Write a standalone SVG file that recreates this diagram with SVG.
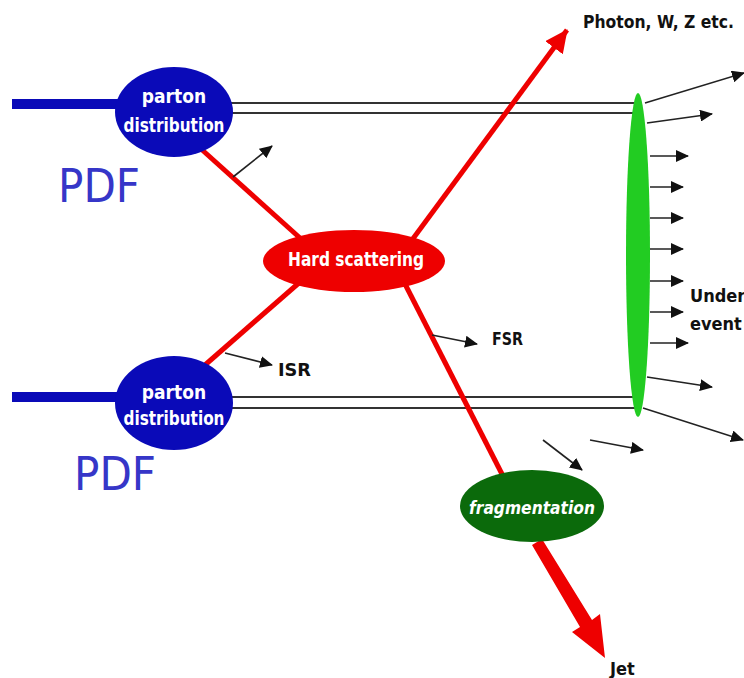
<svg xmlns="http://www.w3.org/2000/svg" width="744" height="678" viewBox="0 0 744 678">
<defs>
<style>
.blk{stroke:#222;stroke-width:1.6;fill:none}
.dbl{stroke:#333;stroke-width:2;fill:none}
.red{stroke:#ee0000;stroke-width:5;fill:none}
.wt{fill:#ffffff;font-family:"DejaVu Sans Condensed","DejaVu Sans",sans-serif;font-weight:bold}
.lb{fill:#111;font-family:"DejaVu Sans Condensed","DejaVu Sans",sans-serif;font-weight:bold}
.pdf{fill:#3636c8;font-family:"DejaVu Sans",sans-serif;font-size:46px}
</style>
<marker id="ah" markerUnits="userSpaceOnUse" markerWidth="14" markerHeight="12" refX="12" refY="6" orient="auto">
<path d="M0,0 L13,6 L0,12 Z" fill="#111"/>
</marker>
<marker id="rh" markerUnits="userSpaceOnUse" markerWidth="24" markerHeight="22" refX="22" refY="11" orient="auto">
<path d="M0,0 L23,11 L0,22 Z" fill="#ee0000"/>
</marker>
</defs>
<rect width="744" height="678" fill="#ffffff"/>

<g id="connectors">
<line x1="12" y1="104" x2="130" y2="104" stroke="#0a0ab8" stroke-width="10"/>
<line x1="12" y1="397" x2="130" y2="397" stroke="#0a0ab8" stroke-width="10"/>
<line class="dbl" x1="225" y1="103" x2="638" y2="103"/>
<line class="dbl" x1="225" y1="113" x2="638" y2="113"/>
<line class="dbl" x1="225" y1="397" x2="638" y2="397"/>
<line class="dbl" x1="225" y1="408" x2="638" y2="408"/>
<line class="red" x1="200" y1="148" x2="300" y2="238"/>
<line class="red" x1="205" y1="365" x2="300" y2="282"/>
<line class="red" x1="405" y1="284" x2="504" y2="478"/>
<line class="red" x1="412" y1="240" x2="567" y2="30" marker-end="url(#rh)"/>
<polygon fill="#ee0000" points="532,545 542,539 592,620 600,614 605,658 572,632 580,627"/>
<line class="blk" x1="233" y1="177" x2="272" y2="146" marker-end="url(#ah)"/>
<line class="blk" x1="225" y1="353" x2="272" y2="365" marker-end="url(#ah)"/>
<line class="blk" x1="432" y1="335" x2="477" y2="344" marker-end="url(#ah)"/>
<line class="blk" x1="543" y1="440" x2="582" y2="470" marker-end="url(#ah)"/>
<line class="blk" x1="590" y1="440" x2="643" y2="450" marker-end="url(#ah)"/>
<line class="blk" x1="645" y1="103" x2="744" y2="73" marker-end="url(#ah)"/>
<line class="blk" x1="647" y1="123" x2="712" y2="114" marker-end="url(#ah)"/>
<line class="blk" x1="650" y1="156" x2="688" y2="156" marker-end="url(#ah)"/>
<line class="blk" x1="650" y1="187" x2="683" y2="187" marker-end="url(#ah)"/>
<line class="blk" x1="650" y1="218" x2="683" y2="218" marker-end="url(#ah)"/>
<line class="blk" x1="650" y1="249" x2="683" y2="249" marker-end="url(#ah)"/>
<line class="blk" x1="650" y1="281" x2="683" y2="281" marker-end="url(#ah)"/>
<line class="blk" x1="650" y1="312" x2="683" y2="312" marker-end="url(#ah)"/>
<line class="blk" x1="650" y1="343" x2="688" y2="343" marker-end="url(#ah)"/>
<line class="blk" x1="647" y1="377" x2="712" y2="387" marker-end="url(#ah)"/>
<line class="blk" x1="643" y1="408" x2="743" y2="440" marker-end="url(#ah)"/>
</g>

<g id="pdf-top">
<ellipse cx="174" cy="112" rx="59" ry="45" fill="#0a0ab8"/>
<text class="wt" x="174" y="103" font-size="19" text-anchor="middle">parton</text>
<text class="wt" x="174" y="132" font-size="19" text-anchor="middle" textLength="101" lengthAdjust="spacingAndGlyphs">distribution</text>
</g>
<g id="pdf-bottom">
<ellipse cx="174" cy="403" rx="59" ry="47" fill="#0a0ab8"/>
<text class="wt" x="174" y="399" font-size="19" text-anchor="middle">parton</text>
<text class="wt" x="174" y="425" font-size="19" text-anchor="middle" textLength="101" lengthAdjust="spacingAndGlyphs">distribution</text>
</g>
<g id="label-pdf-1"><text class="pdf" x="58" y="202" textLength="82" lengthAdjust="spacingAndGlyphs">PDF</text></g>
<g id="label-pdf-2"><text class="pdf" x="74" y="490" textLength="82" lengthAdjust="spacingAndGlyphs">PDF</text></g>

<g id="hard-scattering">
<ellipse cx="354" cy="261" rx="91" ry="31" fill="#ee0000"/>
<text class="wt" x="356" y="266" font-size="19" text-anchor="middle" textLength="136" lengthAdjust="spacingAndGlyphs" font-weight="normal">Hard scattering</text>
</g>

<g id="fragmentation">
<ellipse cx="532" cy="506" rx="72" ry="36" fill="#0b6a0b"/>
<text class="wt" x="532" y="514" font-size="17" text-anchor="middle" font-style="italic" textLength="126" lengthAdjust="spacingAndGlyphs">fragmentation</text>
</g>

<g id="underlying-event">
<ellipse cx="638" cy="255" rx="12" ry="162" fill="#22cc22"/>
</g>

<g id="labels">
<text class="lb" x="583" y="28" font-size="18" textLength="151" lengthAdjust="spacingAndGlyphs">Photon, W, Z etc.</text>
<text class="lb" x="278" y="376" font-size="18" textLength="33" lengthAdjust="spacingAndGlyphs">ISR</text>
<text class="lb" x="492" y="345" font-size="18" textLength="31" lengthAdjust="spacingAndGlyphs">FSR</text>
<text class="lb" x="690" y="302" font-size="18">Under</text>
<text class="lb" x="690" y="330" font-size="18">event</text>
<text class="lb" x="610" y="675" font-size="18">Jet</text>
</g>
</svg>
